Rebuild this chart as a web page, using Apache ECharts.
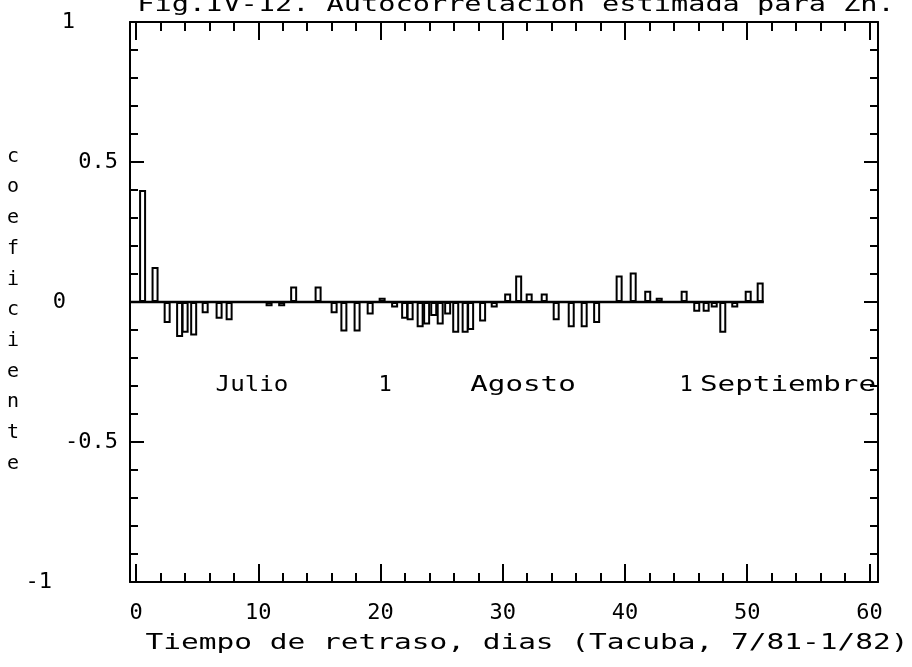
<!DOCTYPE html>
<html><head><meta charset="utf-8">
<script src="https://cdn.jsdelivr.net/npm/echarts@6/dist/echarts.min.js"></script>
<style>html,body{margin:0;padding:0;background:#fff}#c{width:912px;height:667px}</style>
</head><body><div id="c"></div>
<script>
// Data (lag position in days, autocorrelation coefficient)
const lags = [0.53,1.55,2.54,3.56,4.01,4.71,5.65,6.79,7.61,10.88,11.91,12.89,14.89,16.2,17.0,18.08,19.15,20.13,21.15,21.97,22.42,23.24,23.77,24.35,24.88,25.49,26.15,26.92,27.37,28.35,29.3,30.4,31.3,32.16,33.39,34.37,35.6,36.66,37.68,39.52,40.67,41.86,42.8,44.84,45.87,46.64,47.3,48.0,48.98,50.08,51.06];
const coefs = [0.40,0.125,-0.075,-0.125,-0.11,-0.12,-0.04,-0.06,-0.065,-0.015,-0.015,0.055,0.055,-0.04,-0.105,-0.105,-0.045,0.015,-0.02,-0.06,-0.065,-0.09,-0.08,-0.05,-0.08,-0.045,-0.11,-0.11,-0.10,-0.07,-0.02,0.03,0.095,0.03,0.03,-0.065,-0.09,-0.09,-0.075,0.095,0.105,0.04,0.015,0.04,-0.035,-0.035,-0.02,-0.11,-0.02,0.04,0.07];
const xLabelValues = [0,10,20,30,40,50,60];
const xMinorTicks = [0,2,4,6,8,10,12,14,16,18,20,22,24,26,28,30,32,34,36,38,40,42,44,46,48,50,52,54,56,58,60];
const yLabelValues = [1,0.5,0,-0.5,-1];
const yLabelTexts = ['1','0.5','0','-0.5','-1'];
const titleText = 'Fig.IV-12. Autocorrelación estimada para Zn.';
const xName = 'Tiempo de retraso, dias (Tacuba, 7/81-1/82)';
const yName = 'coeficiente';
const monthLabels = ['Julio','1','Agosto','1','Septiembre'];

const FONT = 'DejaVu Sans Mono';
const XMIN = -0.5, XMAX = 60.7;
const baseline = [[XMIN,0],[lags[lags.length-1]+0.3,0]];

const chart = echarts.init(document.getElementById('c'));
const lineStyle = {color:'#000', width:2};
function xAx(pos, len, vals, showLine, label){
  return {type:'value', min:XMIN, max:XMAX, position:pos,
    axisLine:{show:showLine, onZero:false, lineStyle},
    axisTick:{show:true, inside:true, length:len, customValues:vals, lineStyle},
    axisLabel: label ? {show:true, customValues:xLabelValues, margin:20, color:'#000', fontFamily:FONT, fontSize:22} : {show:false},
    splitLine:{show:false}};
}
function yAx(pos, len, interval, showLine, label){
  const ax = {type:'value', min:-1, max:1, interval:interval, position:pos,
    axisLine:{show:showLine, onZero:false, lineStyle},
    axisTick:{show:true, inside:true, length:len, lineStyle},
    axisLabel:{show:false}, splitLine:{show:false}};
  if(label){
    ax.axisLabel = {show:true, customValues:yLabelValues, margin:12, color:'#000', fontFamily:FONT, fontSize:22,
      formatter:function(v){
        const i = yLabelValues.findIndex(t=>Math.abs(t-v)<1e-6);
        if(i<0) return '';
        const s = yLabelTexts[i];
        if(s==='1') return '{pa|'+s+'}';
        if(s==='0') return '{pb|'+s+'}';
        if(s==='-1') return '{pc|'+s+'}';
        return s;
      },
      rich:{pa:{padding:[0,43,0,0],fontFamily:FONT,fontSize:22,color:'#000'},
            pb:{padding:[0,52,0,0],fontFamily:FONT,fontSize:22,color:'#000'},
            pc:{padding:[0,66,0,0],fontFamily:FONT,fontSize:22,color:'#000'}}};
  }
  return ax;
}
const txt = {fill:'#000', font:'22px "DejaVu Sans Mono"', textAlign:'center', textVerticalAlign:'middle'};
chart.setOption({
  animation:false,
  backgroundColor:'#fff',
  grid:{left:130, top:22, width:748, height:560},
  xAxis:[xAx('bottom',9,xMinorTicks,true,true), xAx('bottom',18,xLabelValues,false,false),
         xAx('top',9,xMinorTicks,true,false), xAx('top',18,xLabelValues,false,false)],
  yAxis:[yAx('left',8,0.1,true,true), yAx('left',14,0.5,false,false),
         yAx('right',8,0.1,true,false), yAx('right',14,0.5,false,false)],
  series:[
    {type:'line', data:baseline, symbol:'none', lineStyle:{color:'#000', width:2.5}, z:3, xAxisIndex:0, yAxisIndex:0},
    {type:'bar', data:lags.map((l,i)=>[l,coefs[i]]), barWidth:7, xAxisIndex:0, yAxisIndex:0, z:2,
     itemStyle:{color:'#fff', borderColor:'#000', borderWidth:2}}
  ],
  graphic:[
    {type:'text', x:516, y:5, scaleX:1.3, style:Object.assign({}, txt, {text:titleText})},
    {type:'text', x:527, y:643, scaleX:1.34, style:Object.assign({}, txt, {text:xName})},
    {type:'text', x:13, y:310, style:{text:yName.split('').join('\n'), fill:'#000', font:'20px "DejaVu Sans Mono"', lineHeight:30.7, textAlign:'center', textVerticalAlign:'middle'}},
    {type:'text', x:252, y:385, scaleX:1.1, style:Object.assign({}, txt, {text:monthLabels[0]})},
    {type:'text', x:385, y:385, style:Object.assign({}, txt, {text:monthLabels[1]})},
    {type:'text', x:523, y:385, scaleX:1.33, style:Object.assign({}, txt, {text:monthLabels[2]})},
    {type:'text', x:686, y:385, style:Object.assign({}, txt, {text:monthLabels[3]})},
    {type:'text', x:788, y:385, scaleX:1.33, style:Object.assign({}, txt, {text:monthLabels[4]})}
  ]
});
</script></body></html>
